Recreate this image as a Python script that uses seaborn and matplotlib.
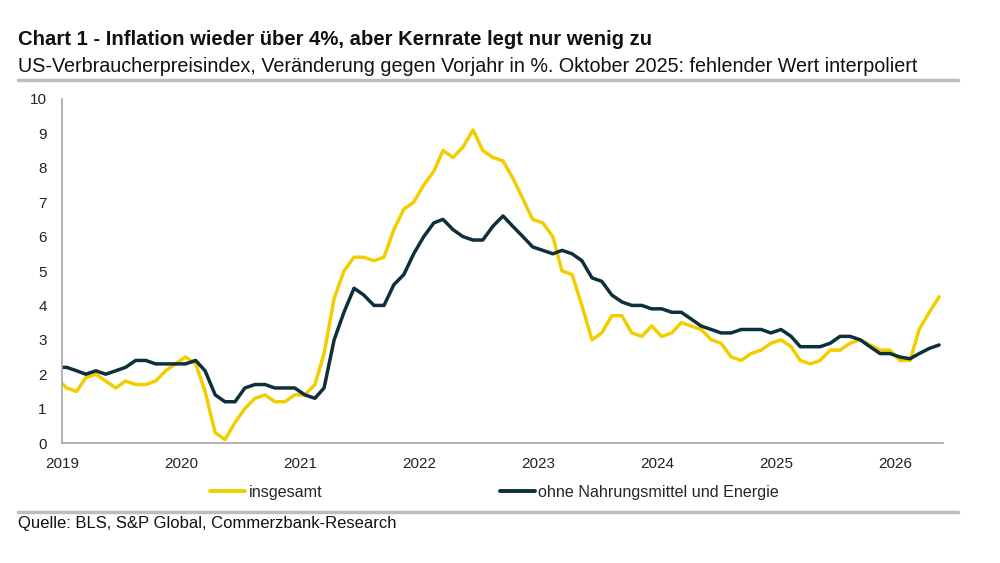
import pandas as pd
import seaborn as sns
import matplotlib.pyplot as plt
import matplotlib.dates as mdates
from matplotlib.lines import Line2D

# Monatswerte, Dez 2018 bis Mai 2026 (in % gg. Vorjahr)
start = "2018-12-01"
insgesamt = [
    1.9,
    1.6, 1.5, 1.9, 2.0, 1.8, 1.6, 1.8, 1.7, 1.7, 1.8, 2.1, 2.3,
    2.5, 2.3, 1.5, 0.3, 0.1, 0.6, 1.0, 1.3, 1.4, 1.2, 1.2, 1.4,
    1.4, 1.7, 2.6, 4.2, 5.0, 5.4, 5.4, 5.3, 5.4, 6.2, 6.8, 7.0,
    7.5, 7.9, 8.5, 8.3, 8.6, 9.1, 8.5, 8.3, 8.2, 7.7, 7.1, 6.5,
    6.4, 6.0, 5.0, 4.9, 4.0, 3.0, 3.2, 3.7, 3.7, 3.2, 3.1, 3.4,
    3.1, 3.2, 3.5, 3.4, 3.3, 3.0, 2.9, 2.5, 2.4, 2.6, 2.7, 2.9,
    3.0, 2.8, 2.4, 2.3, 2.4, 2.7, 2.7, 2.9, 3.0, 2.85, 2.7, 2.7,
    2.4, 2.4, 3.3, 3.8, 4.25,
]
kern = [
    2.2,
    2.2, 2.1, 2.0, 2.1, 2.0, 2.1, 2.2, 2.4, 2.4, 2.3, 2.3, 2.3,
    2.3, 2.4, 2.1, 1.4, 1.2, 1.2, 1.6, 1.7, 1.7, 1.6, 1.6, 1.6,
    1.4, 1.3, 1.6, 3.0, 3.8, 4.5, 4.3, 4.0, 4.0, 4.6, 4.9, 5.5,
    6.0, 6.4, 6.5, 6.2, 6.0, 5.9, 5.9, 6.3, 6.6, 6.3, 6.0, 5.7,
    5.6, 5.5, 5.6, 5.5, 5.3, 4.8, 4.7, 4.3, 4.1, 4.0, 4.0, 3.9,
    3.9, 3.8, 3.8, 3.6, 3.4, 3.3, 3.2, 3.2, 3.3, 3.3, 3.3, 3.2,
    3.3, 3.1, 2.8, 2.8, 2.8, 2.9, 3.1, 3.1, 3.0, 2.8, 2.6, 2.6,
    2.5, 2.45, 2.6, 2.75, 2.85,
]
serien = ["insgesamt", "ohne Nahrungsmittel und Energie"]
farben = ["#F2CD00", "#0E2F3C"]

# Werte jeweils zur Monatsmitte
datum = pd.date_range(start, periods=len(insgesamt), freq="MS") + pd.Timedelta(days=14)
df = pd.DataFrame({"datum": datum, serien[0]: insgesamt, serien[1]: kern})
df = df.melt(id_vars="datum", var_name="reihe", value_name="wert")

sns.set_style("white")
plt.rcParams["font.family"] = ["Liberation Sans", "DejaVu Sans"]

fig = plt.figure(figsize=(10, 5.63), dpi=100)
ax = fig.add_axes([0.062, 0.2131, 0.881, 0.6111])

sns.lineplot(data=df, x="datum", y="wert", hue="reihe", hue_order=serien,
             palette=farben, linewidth=2.5, ax=ax, legend=False)

ax.set_xlim(pd.Timestamp("2019-01-01"), pd.Timestamp("2026-05-27"))
ax.set_ylim(0, 10)
ax.set_yticks(range(0, 11))
ax.xaxis.set_major_locator(mdates.YearLocator())
ax.xaxis.set_major_formatter(mdates.DateFormatter("%Y"))
ax.set_xlabel("")
ax.set_ylabel("")

for s in ["top", "right"]:
    ax.spines[s].set_visible(False)
for s in ["left", "bottom"]:
    ax.spines[s].set_color("#A6A6A6")
    ax.spines[s].set_linewidth(1.2)
ax.tick_params(axis="both", length=4, width=1, color="#A6A6A6",
               labelsize=11, labelcolor="#222222", direction="out")
ax.tick_params(axis="y", pad=7)
ax.tick_params(axis="x", pad=6)

handles = [Line2D([0], [0], color=c, lw=2.8) for c in farben]
fig.legend(handles, serien, loc="center left", bbox_to_anchor=(0.1955, 0.126),
           ncol=2, frameon=False, fontsize=11.6, handlelength=2.2,
           handletextpad=0.2, columnspacing=11.0)

fig.text(0.018, 0.929, "Chart 1 - Inflation wieder über 4%, aber Kernrate legt nur wenig zu",
         fontsize=14.6, fontweight="bold", va="center", color="#111111")
fig.text(0.018, 0.881, "US-Verbraucherpreisindex, Veränderung gegen Vorjahr in %. Oktober 2025: fehlender Wert interpoliert",
         fontsize=14.2, va="center", color="#111111")
fig.text(0.018, 0.071, "Quelle: BLS, S&P Global, Commerzbank-Research",
         fontsize=12, va="center", color="#111111")

for y in [0.858, 0.091]:
    fig.add_artist(Line2D([0.018, 0.958], [y, y], transform=fig.transFigure,
                          color="#BDBDBD", lw=2.5))

fig.savefig("out.png", dpi=100)
